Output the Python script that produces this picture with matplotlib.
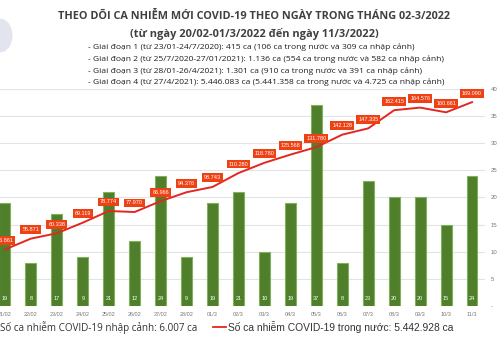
import matplotlib
matplotlib.use("Agg")
import matplotlib.pyplot as plt
from matplotlib.patches import Ellipse

dates = ["21/02", "22/02", "23/02", "24/02", "25/02", "26/02", "27/02", "28/02",
         "01/3", "02/3", "03/3", "04/3", "05/3", "06/3", "07/3", "08/3", "09/3", "10/3", "11/3"]
imported = [19, 8, 17, 9, 21, 12, 24, 9, 19, 21, 10, 19, 37, 8, 23, 20, 20, 15, 24]
domestic = [46861, 55871, 60338, 69119, 78774, 77970, 86966, 94376, 98743, 110280,
            118780, 125568, 131780, 142128, 147335, 162415, 164576, 160661, 169090]
right_ticks = [0, 5, 10, 15, 20, 25, 30, 35, 40]
right_tick_labels = ["-", "5", "10", "15", "20", "25", "30", "35", "40"]

title1 = "THEO DÕI CA NHIỄM MỚI COVID-19 THEO NGÀY TRONG THÁNG 02-3/2022"
title2 = "(từ ngày 20/02-01/3/2022 đến ngày 11/3/2022)"
notes = [
    "- Giai đoạn 1 (từ 23/01-24/7/2020): 415 ca (106 ca trong nước và 309 ca nhập cảnh)",
    "- Giai đoạn 2 (từ 25/7/2020-27/01/2021): 1.136 ca (554 ca trong nước và 582 ca nhập cảnh)",
    "- Giai đoạn 3 (từ 28/01-26/4/2021): 1.301 ca (910 ca trong nước và 391 ca nhập cảnh)",
    "- Giai đoạn 4 (từ 27/4/2021): 5.446.083 ca (5.441.358 ca trong nước và 4.725 ca nhập cảnh)",
]
legend1 = "Số ca nhiễm COVID-19 nhập cảnh: 6.007 ca"
legend2 = "Số ca nhiễm COVID-19 trong nước: 5.442.928 ca"

def fmt(v):
    return f"{v:,}".replace(",", ".")

BAR = "#4f7f2b"
BAR_EDGE = "#7fb25a"
RED = "#e3261f"
BOX = "#ee4215"

fig = plt.figure(figsize=(5, 3.38), dpi=100)
fig.patch.set_facecolor("white")

ax = fig.add_axes([0.0, 0.0947, 0.97, 0.642])
ax2 = ax.twinx()

x = list(range(len(dates)))
ax.bar(x, imported, width=0.42, color=BAR, edgecolor=BAR_EDGE, linewidth=0.8, zorder=2)
ax.set_xlim(-0.19, 18.5)
ax.set_ylim(0, 40)
ax.yaxis.tick_right()
ax.set_yticks(right_ticks)
ax.set_yticklabels(right_tick_labels, fontsize=4.3, color="#777777", family="Liberation Sans")
ax.tick_params(axis="y", length=0, pad=4, left=False, labelleft=False, right=False, labelright=True)
ax.set_xticks(x)
ax.set_xticklabels(dates, fontsize=4, color="#777777", family="Liberation Sans")
ax.tick_params(axis="x", length=0, pad=4)
for s in ax.spines.values():
    s.set_visible(False)
ax.grid(axis="y", color="#e3e3e3", linewidth=0.8, zorder=0)
ax.set_axisbelow(True)
for xi, v in zip(x, imported):
    ax.text(xi, 1.3, str(v), ha="center", va="center", fontsize=4, color="white",
            family="Liberation Sans", zorder=3)

ax2.set_ylim(0, 180000)
ax2.set_xlim(-0.19, 18.5)
ax2.axis("off")
ax2.plot(x, domestic, color=RED, linewidth=1.4, zorder=4)
for xi, v in zip(x, domestic):
    ax2.annotate(fmt(v), (xi, v), xytext=(0, 6.5), textcoords="offset points",
                 ha="center", va="center", fontsize=4, color="white",
                 family="Liberation Sans", zorder=5,
                 bbox=dict(boxstyle="square,pad=0.35", facecolor=BOX, edgecolor="none"))

# titles
fig.text(0.508, 0.950, title1, ha="center", va="center", fontsize=7.85, fontweight="bold",
         color="#404040", family="Open Sans")
fig.text(0.508, 0.900, title2, ha="center", va="center", fontsize=7.9, fontweight="bold",
         color="#404040", family="Open Sans")
ys = [0.860, 0.825, 0.790, 0.756]
for yy, t in zip(ys, notes):
    fig.text(0.176, yy, t, ha="left", va="center", fontsize=6.12, color="#202020", family="Open Sans")

# faint logo
fig.patches.append(Ellipse((0.0, 0.895), 0.05, 0.1, transform=fig.transFigure,
                           facecolor="#d8dbe8", edgecolor="none", alpha=0.7))

# legend
fig.text(0.0, 0.032, legend1, ha="left", va="center", fontsize=7.1, color="#333333", family="Open Sans")
fig.add_artist(plt.Line2D([0.426, 0.452], [0.034, 0.034], transform=fig.transFigure,
                          color=RED, linewidth=1.3))
fig.text(0.456, 0.032, legend2, ha="left", va="center", fontsize=7.35, color="#333333",
         family="Liberation Sans")

fig.savefig("out.png", dpi=100)
